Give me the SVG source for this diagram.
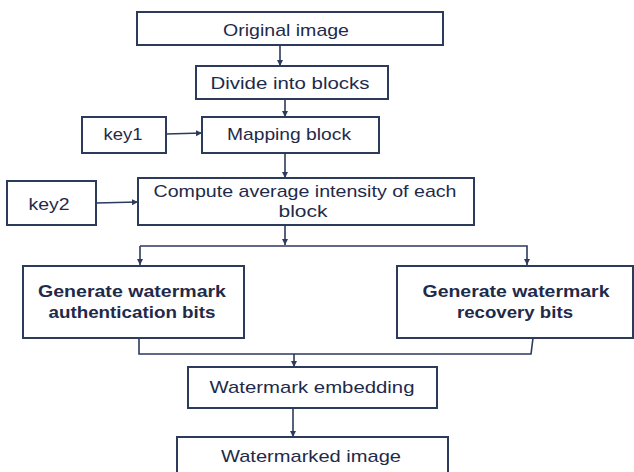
<svg xmlns="http://www.w3.org/2000/svg" width="634" height="472" viewBox="0 0 634 472">
<style>
.box{fill:#fff;stroke:#2c3a5c;stroke-width:2}
.t{font-family:"Liberation Sans",Arial,sans-serif;font-size:17px;fill:#1f2a4a;text-anchor:middle}
.b{font-weight:bold}
.c{fill:none;stroke:#2c3a5c;stroke-width:1.6}
</style>
<defs>
<marker id="ah" markerUnits="userSpaceOnUse" markerWidth="7" markerHeight="7" refX="6" refY="3.5" orient="auto">
<path d="M0,0.5 L6,3.5 L0,6.5 Z" fill="#2c3a5c"/>
</marker>
</defs>
<rect width="634" height="472" fill="#fff"/>
<g id="connectors">
<line class="c" x1="280" y1="45" x2="280" y2="66" marker-end="url(#ah)"/>
<line class="c" x1="285" y1="99" x2="285" y2="117" marker-end="url(#ah)"/>
<line class="c" x1="166" y1="134" x2="202" y2="133" marker-end="url(#ah)"/>
<line class="c" x1="285" y1="153" x2="285" y2="178" marker-end="url(#ah)"/>
<line class="c" x1="96" y1="203" x2="138" y2="202" marker-end="url(#ah)"/>
<line class="c" x1="285" y1="225" x2="285" y2="245" marker-end="url(#ah)"/>
<polyline class="c" points="140,246 527,246 527,265" marker-end="url(#ah)"/>
<line class="c" x1="140" y1="246" x2="140" y2="265" marker-end="url(#ah)"/>
<polyline class="c" points="139,338 139,354 531,354 533,338"/>
<line class="c" x1="294" y1="354" x2="294" y2="367" marker-end="url(#ah)"/>
<line class="c" x1="293" y1="408" x2="293" y2="437" marker-end="url(#ah)"/>
</g>
<g id="original">
<rect class="box" x="137" y="12" width="306" height="33"/>
<text class="t" x="286" y="36" textLength="126" lengthAdjust="spacingAndGlyphs">Original image</text>
</g>
<g id="divide">
<rect class="box" x="196" y="66" width="192" height="33"/>
<text class="t" x="290" y="89" textLength="159" lengthAdjust="spacingAndGlyphs">Divide into blocks</text>
</g>
<g id="key1">
<rect class="box" x="82" y="117" width="84" height="36"/>
<text class="t" x="123" y="140" textLength="39" lengthAdjust="spacingAndGlyphs">key1</text>
</g>
<g id="mapping">
<rect class="box" x="202" y="117" width="177" height="36"/>
<text class="t" x="289" y="140" textLength="124" lengthAdjust="spacingAndGlyphs">Mapping block</text>
</g>
<g id="key2">
<rect class="box" x="7" y="181" width="89" height="44"/>
<text class="t" x="49" y="210" textLength="41" lengthAdjust="spacingAndGlyphs">key2</text>
</g>
<g id="compute">
<rect class="box" x="138" y="178" width="336" height="47"/>
<text class="t" x="305" y="197" textLength="303" lengthAdjust="spacingAndGlyphs">Compute average intensity of each</text>
<text class="t" x="303" y="217" textLength="49" lengthAdjust="spacingAndGlyphs">block</text>
</g>
<g id="auth">
<rect class="box" x="23" y="266" width="221" height="72"/>
<text class="t b" x="132" y="297" textLength="188" lengthAdjust="spacingAndGlyphs">Generate watermark</text>
<text class="t b" x="132" y="318" textLength="167" lengthAdjust="spacingAndGlyphs">authentication bits</text>
</g>
<g id="recovery">
<rect class="box" x="397" y="266" width="236" height="72"/>
<text class="t b" x="516" y="297" textLength="187" lengthAdjust="spacingAndGlyphs">Generate watermark</text>
<text class="t b" x="515" y="318" textLength="116" lengthAdjust="spacingAndGlyphs">recovery bits</text>
</g>
<g id="embedding">
<rect class="box" x="188" y="367" width="249" height="41"/>
<text class="t" x="312" y="393" textLength="205" lengthAdjust="spacingAndGlyphs">Watermark embedding</text>
</g>
<g id="watermarked">
<rect class="box" x="177" y="437" width="271" height="40"/>
<text class="t" x="311" y="462" textLength="180" lengthAdjust="spacingAndGlyphs">Watermarked image</text>
</g>
</svg>
